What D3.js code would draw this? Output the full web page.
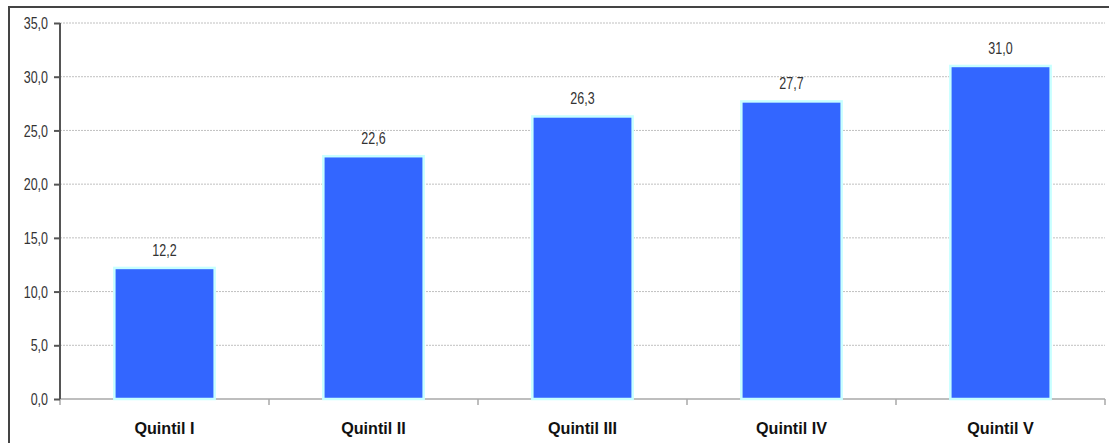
<!DOCTYPE html>
<html><head><meta charset="utf-8">
<script src="https://cdn.jsdelivr.net/npm/d3@7"></script>
<style>
html,body{margin:0;padding:0;background:#fff;}
svg{display:block;}
.t{font-family:"Liberation Sans Narrow","Arial Narrow","Liberation Sans",Arial,sans-serif;}
</style></head>
<body>
<svg id="c" width="1109" height="443"></svg>
<script>
const categories = ["Quintil I","Quintil II","Quintil III","Quintil IV","Quintil V"];
const values = [12.2, 22.6, 26.3, 27.7, 31.0];
const yTicks = [0,5,10,15,20,25,30,35];

const svg = d3.select("#c");
const W = 1109, H = 443;
const m = {left:60, right:1105, top:23, bottom:399};
const fmt = v => d3.format(".1f")(v).replace(".", ",");

function condense(sel, k){
  sel.each(function(){
    const L = this.getComputedTextLength();
    d3.select(this).attr("textLength", L*k).attr("lengthAdjust","spacingAndGlyphs");
  });
}

// outer frame
svg.append("rect").attr("x",9).attr("y",7).attr("width",W+20).attr("height",H+20)
  .attr("fill","none").attr("stroke","#444").attr("stroke-width",2);

const x = d3.scaleBand().domain(categories).range([m.left, m.right]).paddingInner(0.52).paddingOuter(0.26);
const xb = d3.scaleBand().domain(categories).range([m.left, m.right]);
const y = d3.scaleLinear().domain([0,35]).range([m.bottom, m.top]);

// gridlines
svg.append("g").selectAll("line").data(yTicks.filter(d=>d>0)).join("line")
  .attr("x1",m.left).attr("x2",m.right)
  .attr("y1",d=>y(d)).attr("y2",d=>y(d))
  .attr("stroke","#c0c0c0").attr("stroke-width",1).attr("stroke-dasharray","2,1");

// x axis
const xg = svg.append("g");
xg.append("line").attr("x1",m.left).attr("x2",m.right).attr("y1",m.bottom).attr("y2",m.bottom)
  .attr("stroke","#a8a8a8").attr("stroke-width",1.5);
const bounds = categories.map(c=>xb(c)).concat([m.right]);
xg.selectAll("line.tk").data(bounds).join("line").attr("class","tk")
  .attr("x1",d=>d).attr("x2",d=>d).attr("y1",m.bottom).attr("y2",m.bottom+6)
  .attr("stroke","#a8a8a8").attr("stroke-width",1.5);
xg.selectAll("text").data(categories).join("text").attr("class","t")
  .attr("x",d=>xb(d)+xb.bandwidth()/2).attr("y",434)
  .attr("text-anchor","middle").attr("font-size",17).attr("font-weight","bold")
  .attr("fill","#111").text(d=>d)
  .call(condense, 0.95);

// y axis
const yAxis = d3.axisLeft(y).tickValues(yTicks).tickFormat(fmt).tickSize(6).tickPadding(6);
const yg = svg.append("g").attr("transform",`translate(${m.left},0)`).call(yAxis);
yg.select(".domain").attr("stroke","#555").attr("stroke-width",2).attr("d",`M0,${m.top}V${m.bottom}`);
yg.selectAll(".tick line").attr("stroke","#555").attr("stroke-width",2);
yg.selectAll(".tick text").attr("class","t").attr("font-size",16).attr("fill","#333").attr("dy","0.35em")
  .call(condense, 0.78);

// bars
svg.append("g").selectAll("rect").data(values).join("rect")
  .attr("x",(d,i)=>x(categories[i]))
  .attr("width",x.bandwidth())
  .attr("y",d=>y(d))
  .attr("height",d=>y(0)-y(d))
  .attr("fill","#3366ff").attr("stroke","#c8ffff").attr("stroke-width",2.5);

// labels
svg.append("g").selectAll("text").data(values).join("text").attr("class","t")
  .attr("x",(d,i)=>x(categories[i])+x.bandwidth()/2)
  .attr("y",d=>y(d)-12)
  .attr("text-anchor","middle").attr("font-size",16).attr("fill","#333")
  .text(fmt)
  .call(condense, 0.78);
</script>
</body></html>
